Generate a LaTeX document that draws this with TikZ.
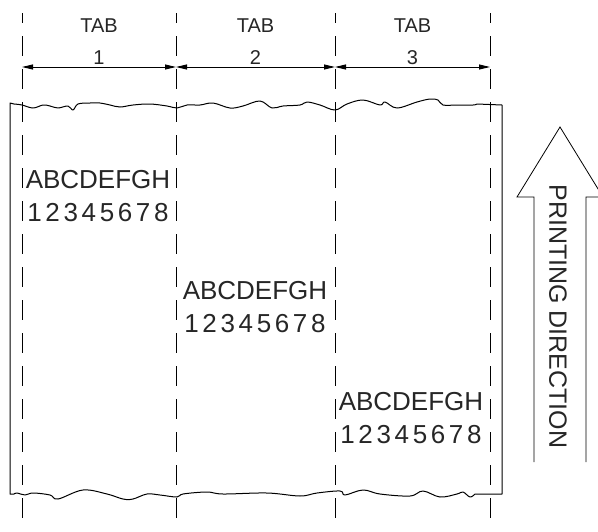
\documentclass[tikz,border=0pt]{standalone}
\usepackage{fontspec}
\setmainfont{Liberation Sans}
\usetikzlibrary{arrows.meta,calc,positioning}
\tikzset{
  guide/.style     = {line width=1pt, dash pattern=on 20pt off 13pt, dash phase=10pt},
  paper/.style     = {line width=1pt, line join=round},
  dimline/.style   = {{Triangle[length=11pt,width=5pt]}-{Triangle[length=11pt,width=5pt]}, line width=0.9pt},
  tablabel/.style  = {font=\fontsize{20}{24}\selectfont, text=black!85, inner sep=0pt},
  sample/.style    = {font=\fontsize{26}{30}\selectfont, text=black!85, inner sep=0pt},
  digits/.style    = {font=\fontsize{26}{30}\selectfont\addfontfeature{LetterSpace=14}, text=black!85, inner sep=0pt},
  bigarrow/.style  = {line width=0.8pt, line join=miter},
}

\begin{document}
\begin{tikzpicture}[x=1pt,y=-1pt]
  \useasboundingbox (0,0) rectangle (598,531);

  % tab boundaries
  \foreach \i/\x in {0/22,1/176,2/335,3/490}{
    \draw[guide] (\x,13) coordinate (top\i) -- (\x,531) coordinate (bot\i);
    \coordinate (dim\i) at (\x,67);
  }

  % tab widths
  \foreach \i [evaluate=\i as \j using int(\i-1)] in {1,2,3}{
    \draw[dimline] (dim\j) -- (dim\i);
    \node[tablabel] (tab\i) at ($(dim\j)!0.5!(dim\i)+(0,-41)$) {TAB};
    \node[tablabel] (num\i) at ($(dim\j)!0.5!(dim\i)+(0,-9.5)$) {\i};
  }

  % label stock with torn edges
  \draw[paper] (10,494) -- (10,103) -- plot[smooth,tension=0.6] coordinates {
      (14,104) (22,105) (33,108) (43,105) (50,106) (58,108) (68,106) (73,110)
      (78,104) (90,103) (100,103) (110,105) (120,107) (133,105) (150,104)
      (167,106) (177,108) (187,105) (200,105) (213,103) (230,108) (243,106)
      (260,101) (272,108) (283,106) (300,105) (307,102) (320,105) (335,110)
      (347,104) (363,100) (380,105) (385,102) (397,108) (417,102) (430,99)
      (438,100) (443,105) (457,105) (473,105) (477,104)}
    -- (502,105) -- (502,494) -- plot[smooth,tension=0.6] coordinates {
      (475,494) (470,497) (463,492) (457,494) (440,497) (423,491) (410,496)
      (380,494) (363,490) (345,495) (340,491) (317,493) (300,496) (267,493)
      (223,494) (207,492) (183,494) (177,497) (160,495) (147,494) (133,499)
      (123,499) (107,494) (83,490) (58,499) (50,495) (33,493) (25,495)
      (17,493) (14,494)}
    -- cycle;

  % printed samples
  \foreach \i/\x/\y in {1/98/180,2/255/291,3/411/402}{
    \node[sample] (abc\i) at (\x,\y) {ABCDEFGH};
    \node[digits] (nums\i) at (\x,\y+32.5) {12345678};
  }

  % printing direction
  \draw[bigarrow] (534,462) -- (534,197) -- (517,197) -- (560,127)
                  -- (603,197) -- (586,197) -- (586,462);
  \node[sample,rotate=-90,font=\fontsize{25}{30}\selectfont] (dir) at (558,316.5) {PRINTING DIRECTION};
\end{tikzpicture}
\end{document}
